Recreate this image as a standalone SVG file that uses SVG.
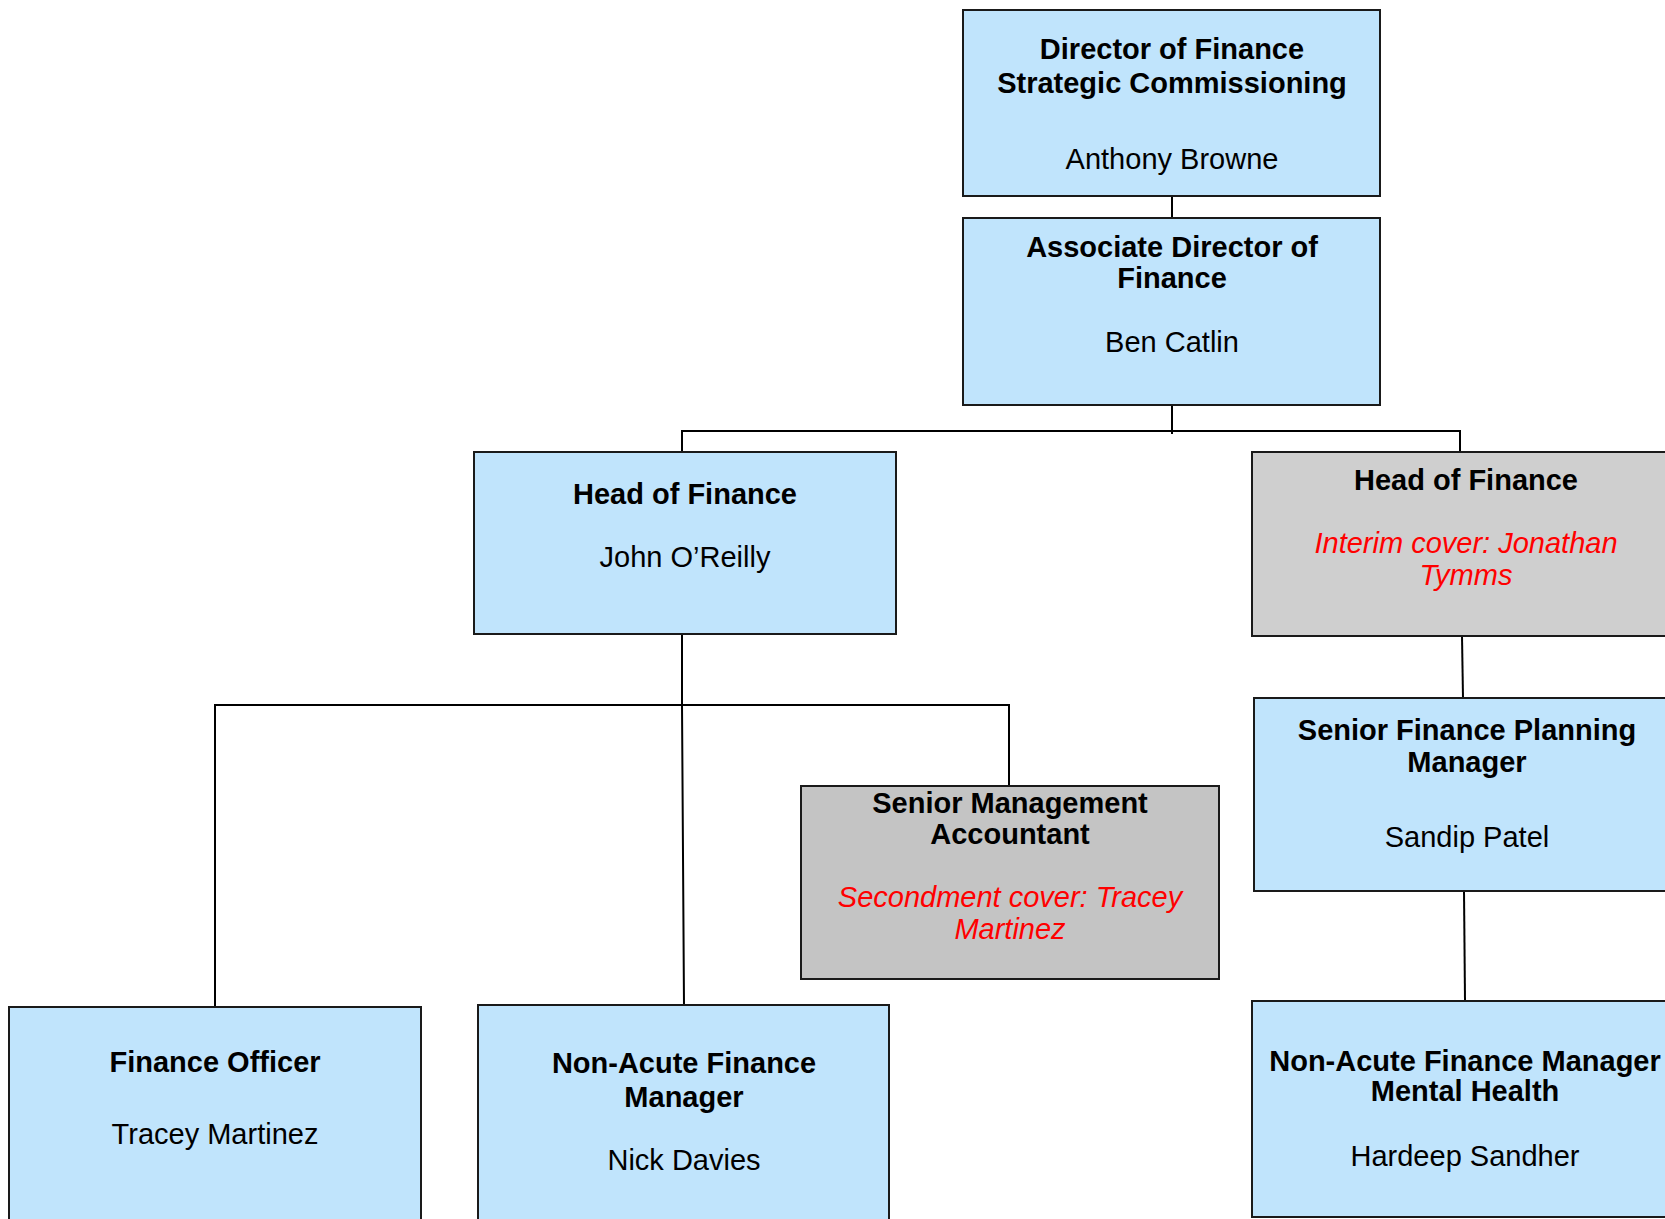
<svg xmlns="http://www.w3.org/2000/svg" width="1665" height="1219" viewBox="0 0 1665 1219">
<style>
.box{stroke:#1a1a1a;stroke-width:2}
.blue{fill:#C0E4FC}
.grey1{fill:#CFCFCF}
.grey2{fill:#C4C4C4}
text{font-family:"Liberation Sans",Arial,sans-serif;font-size:29px;text-anchor:middle;fill:#000}
.b{font-weight:bold}
.r{fill:#FF0000;font-style:italic}
.conn{stroke:#000;stroke-width:2;fill:none}
</style>
<rect width="1665" height="1219" fill="#fff"/>
<g id="connectors">
<line class="conn" x1="1172" y1="196" x2="1172" y2="218"/>
<line class="conn" x1="1172" y1="405" x2="1172" y2="434"/>
<polyline class="conn" points="682,452 682,431 1460,431 1460,452"/>
<polyline class="conn" points="682,634 682,705 684,1005"/>
<polyline class="conn" points="215,1007 215,705 1009,705 1009,786"/>
<line class="conn" x1="1462" y1="636" x2="1463" y2="698"/>
<line class="conn" x1="1464" y1="891" x2="1465" y2="1001"/>
</g>
<g id="director">
<rect class="box blue" x="963" y="10" width="417" height="186"/>
<text class="b" x="1172" y="59">Director of Finance</text>
<text class="b" x="1172" y="93">Strategic Commissioning</text>
<text x="1172" y="169">Anthony Browne</text>
</g>
<g id="assoc-director">
<rect class="box blue" x="963" y="218" width="417" height="187"/>
<text class="b" x="1172" y="257">Associate Director of</text>
<text class="b" x="1172" y="288">Finance</text>
<text x="1172" y="352">Ben Catlin</text>
</g>
<g id="head-finance-1">
<rect class="box blue" x="474" y="452" width="422" height="182"/>
<text class="b" x="685" y="504">Head of Finance</text>
<text x="685" y="567">John O’Reilly</text>
</g>
<g id="head-finance-2">
<rect class="box grey1" x="1252" y="452" width="430" height="184"/>
<text class="b" x="1466" y="490">Head of Finance</text>
<text class="r" x="1466" y="553">Interim cover: Jonathan</text>
<text class="r" x="1466" y="585">Tymms</text>
</g>
<g id="senior-mgmt-accountant">
<rect class="box grey2" x="801" y="786" width="418" height="193"/>
<text class="b" x="1010" y="813">Senior Management</text>
<text class="b" x="1010" y="844">Accountant</text>
<text class="r" x="1010" y="907">Secondment cover: Tracey</text>
<text class="r" x="1010" y="939">Martinez</text>
</g>
<g id="senior-finance-planning">
<rect class="box blue" x="1254" y="698" width="428" height="193"/>
<text class="b" x="1467" y="740">Senior Finance Planning</text>
<text class="b" x="1467" y="772">Manager</text>
<text x="1467" y="847">Sandip Patel</text>
</g>
<g id="finance-officer">
<rect class="box blue" x="9" y="1007" width="412" height="230"/>
<text class="b" x="215" y="1072">Finance Officer</text>
<text x="215" y="1144">Tracey Martinez</text>
</g>
<g id="non-acute-manager">
<rect class="box blue" x="478" y="1005" width="411" height="232"/>
<text class="b" x="684" y="1073">Non-Acute Finance</text>
<text class="b" x="684" y="1107">Manager</text>
<text x="684" y="1170">Nick Davies</text>
</g>
<g id="non-acute-mental-health">
<rect class="box blue" x="1252" y="1001" width="428" height="216"/>
<text class="b" x="1465" y="1071">Non-Acute Finance Manager</text>
<text class="b" x="1465" y="1101">Mental Health</text>
<text x="1465" y="1166">Hardeep Sandher</text>
</g>
</svg>
